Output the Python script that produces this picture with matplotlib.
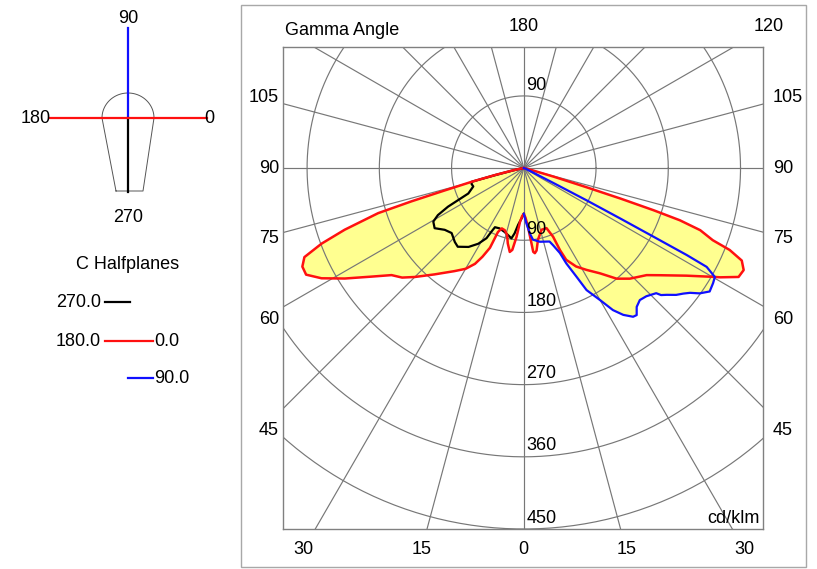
import numpy as np
import matplotlib.pyplot as plt
from matplotlib.patches import Rectangle

plt.rcParams['font.family'] = ['Liberation Sans', 'DejaVu Sans']

# ---- photometric data (gamma in deg, intensity in cd/klm) ----
# C0 half plane (right, red)
c0_gamma = [0, 2, 4, 5.8, 6.4, 7.4, 8.8, 11.2, 16, 20.7, 23.1, 23.8, 24.8, 28, 31.6,
            35.9, 40, 43.8, 48.9, 51.8, 56.5, 60.1, 60.9, 63.1, 65.1, 67, 68.3, 69.1,
            70.6, 71.5, 72, 72.5, 73, 74, 76, 80, 90]
c0_cd = [57, 62, 73, 94, 105, 107, 104, 91, 80, 80, 93, 112, 126, 139, 149,
         162, 180, 191, 203, 216, 243, 272, 280, 300, 302, 295, 276, 252,
         233, 205, 170, 126, 83, 39, 10, 2, 0]

# C180 half plane (left, red)
c180_gamma = [0, 2, 4, 6, 8, 9.5, 12, 14, 17, 20, 22, 23, 25, 27, 30, 34, 40, 45, 48,
              51, 54.5, 58.3, 61.4, 63.9, 66, 67.9, 69.5, 71, 72.8, 73.5, 74.2, 75.3,
              76.4, 78, 80, 85, 90]
c180_cd = [57, 60, 67, 86, 103, 106, 96, 86, 81, 80, 86, 108, 122, 134, 145, 155, 173,
           192, 204, 212, 233, 262, 287, 302, 302, 295, 269, 236, 190, 146, 103, 67,
           37, 15, 5, 1, 0]

# C90 half plane (right, blue)
c90_gamma = [0, 2.7, 5.3, 7.3, 12.3, 19.3, 20.8, 23, 24, 25.9, 27.2, 30, 32.1, 34.1,
             36.3, 37.5, 39.1, 41.3, 43.7, 46.6, 47.2, 48.4, 50.2, 51.8, 53.1, 54.5,
             56.4, 58.7, 60.3, 61.6, 61.9, 62.1, 62.4, 62.8, 63.3, 64.5, 70, 90]
c90_cd = [57, 69, 82, 90, 94, 97, 103, 115, 130, 151, 171, 190, 209, 221,
          230, 231, 223, 219, 221, 227, 233, 238, 247, 253, 259, 269,
          278, 276, 274, 259, 230, 183, 135, 88, 41, 12, 3, 0]

# C270 half plane (left, black)
c270_gamma = [0, 2.6, 5.7, 8, 10, 13, 17, 22, 26, 27, 28, 31, 35, 40, 43, 48, 52, 56,
              59.4, 61.3, 63, 64, 65.4, 70, 73, 75.3, 76.4, 78, 80, 85, 90]
c270_cd = [57, 63, 71, 82, 89, 86, 83, 81, 82, 89, 99, 110, 120, 128, 126, 121, 125,
           134, 131, 122, 106, 91, 76, 67, 68, 67, 37, 15, 5, 1, 0]

rings = [90, 180, 270, 360, 450]
side_ticks = [105, 90, 75, 60, 45]
bottom_ticks = [30, 15, 0]


def to_xy(gamma, cd, side):
    g = np.radians(gamma)
    cd = np.asarray(cd, dtype=float)
    return side * cd * np.sin(g), -cd * np.cos(g)


fig = plt.figure(figsize=(8.17, 5.69), dpi=100)
W, H = 817, 569

# outer frame
fig.patches.append(Rectangle((241 / W, 1 - 567 / H), 565 / W, 562 / H,
                             transform=fig.transFigure, fill=False,
                             edgecolor='#a8a8a8', lw=1))

# ---- main polar diagram ----
ax = fig.add_axes([283 / W, 1 - 529 / H, 480 / W, 482 / H])
ax.set_xlim(-300, 298)
ax.set_ylim(-450, 151)
ax.set_xticks([])
ax.set_yticks([])
for sp in ax.spines.values():
    sp.set_color('#808080')
    sp.set_linewidth(1)

grid_kw = dict(color='#777777', lw=0.85, zorder=2)
t = np.linspace(0, 2 * np.pi, 400)
for r in rings:
    ax.plot(r * np.cos(t), r * np.sin(t), **grid_kw)
for a in range(0, 360, 15):
    ar = np.radians(a)
    ax.plot([0, 900 * np.sin(ar)], [0, -900 * np.cos(ar)], **grid_kw)

x0, y0 = to_xy(c0_gamma, c0_cd, 1)
x180, y180 = to_xy(c180_gamma, c180_cd, -1)
x90, y90 = to_xy(c90_gamma, c90_cd, 1)
x270, y270 = to_xy(c270_gamma, c270_cd, -1)

red_x = np.concatenate([x180[::-1], x0])
red_y = np.concatenate([y180[::-1], y0])

fill_col = '#ffff90'
ax.fill(red_x, red_y, color=fill_col, lw=0, zorder=1)
ax.fill(x90, y90, color=fill_col, lw=0, zorder=1)
ax.fill(x270, y270, color=fill_col, lw=0, zorder=1)

ax.plot(x270, y270, color='black', lw=1.6, zorder=3)
ax.plot(x90, y90, color='#1010ff', lw=1.6, zorder=4)
ax.plot(red_x, red_y, color='#ff1010', lw=1.8, zorder=3)

fs = 13
# ring labels
ax.text(3, 93, '90', fontsize=fs, ha='left', va='bottom', zorder=5)
for r in rings:
    ax.text(3, -r + 3, str(r), fontsize=fs, ha='left', va='bottom', zorder=5)

# gamma angle labels along the rays
xs = 327
for g in side_ticks:
    yv = -xs / np.tan(np.radians(g))
    ax.text(-305, yv, str(g), fontsize=fs, ha='right', va='center', clip_on=False)
    ax.text(310, yv, str(g), fontsize=fs, ha='left', va='center', clip_on=False)
yb = -476
for g in bottom_ticks:
    xv = -yb * np.tan(np.radians(g))
    ax.text(xv, yb, str(g), fontsize=fs, ha='center', va='center', clip_on=False)
    if g:
        ax.text(-xv, yb, str(g), fontsize=fs, ha='center', va='center', clip_on=False)
yt = 176
ax.text(0, yt, '180', fontsize=fs, ha='center', va='center', clip_on=False)
ax.text(yt / np.tan(np.radians(30)), yt, '120', fontsize=fs, ha='center',
        va='center', clip_on=False)
ax.text(-298, 172, 'Gamma Angle', fontsize=fs, ha='left', va='center', clip_on=False)
ax.text(294, -447, 'cd/klm', fontsize=fs, ha='right', va='bottom', zorder=5)

# ---- left panel: luminaire sketch and legend ----
lx = fig.add_axes([0, 0, 240 / W, 1])
lx.set_xlim(0, 240)
lx.set_ylim(H, 0)
lx.axis('off')

cx, cy = 128, 118
arc_t = np.linspace(np.pi, 2 * np.pi, 60)
body_x = np.concatenate([[116], cx + 26 * np.cos(arc_t), [143, 116]])
body_y = np.concatenate([[191], cy + 25 * np.sin(arc_t), [191, 191]])
lx.plot(body_x, body_y, color='#555555', lw=0.7)

lx.plot([cx, cx], [28, cy], color='#1010ff', lw=1.6)
lx.plot([cx, cx], [cy, 192], color='black', lw=1.6)
lx.plot([50, 207], [cy, cy], color='#ff1010', lw=1.6)
lx.text(cx, 18, '90', fontsize=fs, ha='center', va='center')
lx.text(cx, 217, '270', fontsize=fs, ha='center', va='center')
lx.text(51, cy, '180', fontsize=fs, ha='right', va='center')
lx.text(204, cy, '0', fontsize=fs, ha='left', va='center')

lx.text(cx, 264, 'C Halfplanes', fontsize=fs, ha='center', va='center')
lx.text(101, 302, '270.0', fontsize=fs, ha='right', va='center')
lx.plot([105, 130], [302, 302], color='black', lw=1.6)
lx.text(101, 341, '180.0', fontsize=fs, ha='right', va='center')
lx.plot([105, 153], [341, 341], color='#ff1010', lw=1.6)
lx.text(154, 341, '0.0', fontsize=fs, ha='left', va='center')
lx.plot([128, 153], [378, 378], color='#1010ff', lw=1.6)
lx.text(154, 378, '90.0', fontsize=fs, ha='left', va='center')

fig.savefig('out.png', dpi=100)
